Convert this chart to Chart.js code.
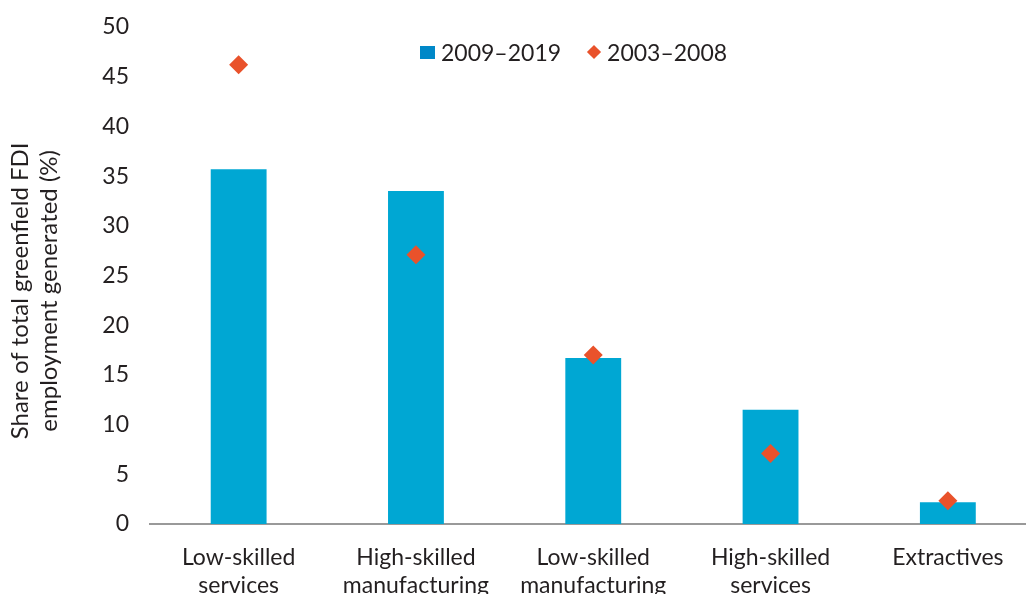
<!DOCTYPE html>
<html>
<head>
<meta charset="utf-8">
<script src="https://cdn.jsdelivr.net/npm/chart.js@4"></script>
<style>
  html, body { margin: 0; padding: 0; background: #fff; overflow: hidden; width: 1026px; height: 594px; }
  #wrap { position: absolute; left: 0; top: 0; width: 1046px; height: 594px; }
  #legend { position: absolute; left: 420px; top: 38px; font-family: Lato, sans-serif; font-size: 23px; color: #231f20; display: flex; align-items: center; white-space: nowrap; }
  #legend .sq { display: inline-block; width: 15px; height: 13px; background: #0088c8; margin-right: 6px; }
  #legend .dm { display: inline-block; width: 10px; height: 10px; background: #e9522b; transform: rotate(45deg); margin-left: 28px; margin-right: 8px; }
</style>
</head>
<body>
<div id="wrap"><canvas id="c" width="1046" height="594"></canvas></div>
<div id="legend"><span class="sq"></span><span>2009–2019</span><span class="dm"></span><span>2003–2008</span></div>
<script>
const categories = [
  ['Low-skilled', 'services'],
  ['High-skilled', 'manufacturing'],
  ['Low-skilled', 'manufacturing'],
  ['High-skilled', 'services'],
  'Extractives'
];
const series2009_2019 = [35.7, 33.5, 16.7, 11.5, 2.2];
const series2003_2008 = [46.2, 27.1, 17.0, 7.1, 2.35];
const seriesNames = ['2009–2019', '2003–2008'];
const yTitle = ['Share of total greenfield FDI\u00a0\u00a0\u00a0\u00a0\u00a0', 'employment generated (%)\u00a0\u00a0\u00a0\u00a0\u00a0'];

const font = { family: 'Lato, sans-serif', size: 23 };
const textColor = '#231f20';

new Chart(document.getElementById('c'), {
  data: {
    labels: categories,
    datasets: [
      {
        type: 'line',
        label: seriesNames[1],
        data: series2003_2008,
        showLine: false,
        pointStyle: 'rectRot',
        pointRadius: 9.5,
        pointHoverRadius: 9.5,
        pointBackgroundColor: '#e9522b',
        pointBorderWidth: 0,
        borderColor: '#e9522b',
        order: 0
      },
      {
        type: 'bar',
        label: seriesNames[0],
        data: series2009_2019,
        backgroundColor: '#00a7d3',
        borderWidth: 0,
        categoryPercentage: 1,
        barPercentage: 0.315,
        order: 1
      }
    ]
  },
  options: {
    responsive: false,
    animation: false,
    layout: { padding: { top: 27, right: 0, bottom: 0, left: 0 } },
    plugins: { legend: { display: false }, tooltip: { enabled: false } },
    scales: {
      x: {
        grid: { display: false, drawTicks: false },
        border: { display: true, color: '#999999', width: 2 },
        ticks: { font: font, color: textColor, padding: 20, maxRotation: 0, autoSkip: false },
        afterFit(s) { s.height = 70; }
      },
      y: {
        min: 0, max: 50,
        grid: { display: false, drawTicks: false },
        border: { display: false },
        ticks: { stepSize: 5, font: font, color: textColor, padding: 21 },
        title: { display: true, text: yTitle, font: { family: 'Lato, sans-serif', size: 24, lineHeight: 1.2 }, color: textColor, padding: { top: 6, bottom: 0 } },
        afterFit(s) { s.width = 150; s.paddingTop = 0; s.paddingBottom = 0; }
      }
    }
  }
});
</script>
</body>
</html>
